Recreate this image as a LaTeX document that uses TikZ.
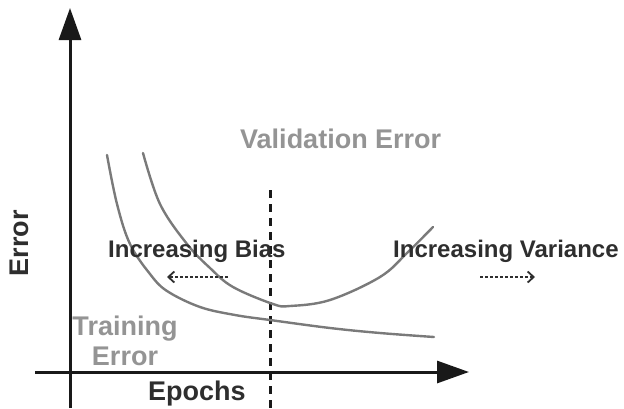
\documentclass[tikz,border=0pt]{standalone}
\usepackage{fontspec}
\setmainfont{Liberation Sans}
\usetikzlibrary{arrows.meta}

\begin{document}
\begin{tikzpicture}[
  x=1pt, y=-1pt,
  axis/.style={line width=3pt, black!90,
    -{Triangle[length=32pt, width=22pt]}},
  curve/.style={line width=2.4pt, black!52, line cap=round},
  lbl/.style={inner sep=0pt, text=black!82,
    font=\bfseries\fontsize{24}{28}\selectfont},
  big/.style={lbl, font=\bfseries\fontsize{27}{30}\selectfont},
  faint/.style={big, text=black!42},
  hint/.style={line width=1.7pt, black!82, dash pattern=on 3pt off 2pt,
    -{Straight Barb[length=6pt, width=11pt, line width=1.8pt]}},
  split/.style={line width=3pt, black!90, dash pattern=on 8pt off 6pt},
]
\useasboundingbox (0,0) rectangle (624,408);

% axes
\coordinate (ybot) at (70,408);
\coordinate (ytop) at (70,8);
\coordinate (xleft) at (35,372);
\coordinate (xright) at (469,372);
\draw[axis] (ybot) -- (ytop);
\draw[axis] (xleft) -- (xright);

% divider between the two regimes
\coordinate (dtop) at (270,190);
\coordinate (dbot) at (270,408);
\draw[split] (dtop) -- (dbot);

% error curves
\draw[curve] plot[smooth, tension=0.6] coordinates {
  (107,155) (117,204) (130,244) (150,274) (167,291) (200,307)
  (235,315) (270,320) (330,328) (380,333) (434,337)};
\draw[curve] plot[smooth, tension=0.6] coordinates {
  (143,153) (160,204) (187,244) (210,268) (233,287) (273,304)
  (290,306) (330,300) (380,277) (407,253) (433,227)};

% labels
\node[faint, anchor=base west] (valid) at (240,148) {Validation Error};
\node[faint, anchor=base, align=center] (train) at (125,365)
  {Training\\Error};
\node[lbl, anchor=base west] (bias) at (108,257) {Increasing Bias};
\node[lbl, anchor=base west] (vari) at (393,257) {Increasing Variance};
\node[big, anchor=base west] (epochs) at (148,400) {Epochs};
\node[big, anchor=base, rotate=90] (error) at (28,243) {Error};

% direction hints
\coordinate (b1) at (228,277);
\coordinate (b2) at (167,277);
\coordinate (v1) at (480,277);
\coordinate (v2) at (535,277);
\draw[hint] (b1) -- (b2);
\draw[hint] (v1) -- (v2);
\end{tikzpicture}
\end{document}
